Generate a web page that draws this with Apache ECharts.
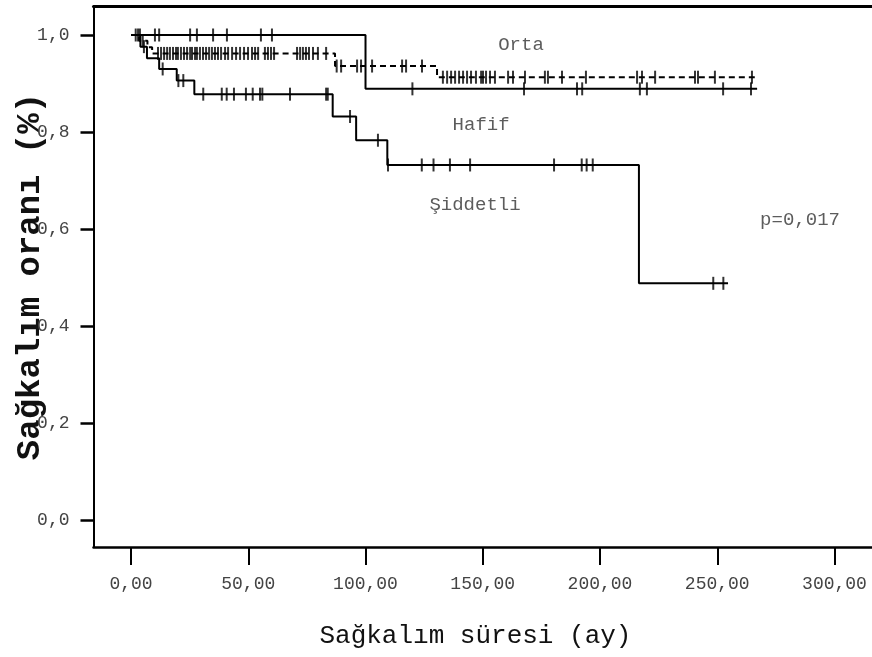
<!DOCTYPE html>
<html>
<head>
<meta charset="utf-8">
<script src="https://cdn.jsdelivr.net/npm/echarts@6/dist/echarts.min.js"></script>
<style>
  html, body { margin: 0; padding: 0; background: #fff; }
  #chart { width: 872px; height: 657px; }
</style>
</head>
<body>
<div id="chart"></div>
<script>
// Kaplan-Meier steps: [time, survival after the event]
const hafifSteps = [[0, 1], [100, 0.889], [267, 0.889]]
const ortaSteps = [[0, 1], [3.5, 0.988], [7, 0.975], [9, 0.962], [87, 0.936], [130.5, 0.913], [266, 0.913]]
const siddetliSteps = [[0, 1], [4, 0.976], [6.8, 0.952], [12, 0.93], [19.5, 0.906], [27, 0.878],
  [86, 0.832], [96, 0.783], [109.3, 0.732], [216.6, 0.488], [254.6, 0.488]]

// censored times
const hafifCensor = [3.8, 10.2, 12.0, 25.2, 28.1, 35.0, 40.9, 55.4, 60.1,
  120, 167.6, 190.2, 192.4, 217, 220, 252.5, 264.4]
const ortaCensor = [2, 5, 11.5, 12.8, 14.1, 15.4, 16.6, 17.9, 19.2, 20.0, 21.3, 22.6, 23.9, 25.2, 26.0,
  27.3, 28.1, 29.4, 30.7, 32.0, 33.3, 34.5, 35.8, 37.1, 38.4, 40.1, 41.4, 43.1, 44.8, 46.5, 48.2,
  49.9, 51.6, 52.9, 54.2, 57.1, 58.4, 59.7, 61.0, 70.8, 72.1, 73.3, 74.6, 75.9, 77.6, 79.7, 83.2,
  87.7, 89.6, 96.4, 98.1, 102.8, 115.6, 117.3, 124.1,
  133.0, 134.8, 136.5, 138.2, 139.9, 141.6, 143.3, 145.0, 147.1, 149.3, 150.1, 151.4, 153.1, 155.2,
  160.8, 162.9, 168.0, 176.5, 177.8, 183.8, 194.0, 215.8, 217.9, 223.5, 240.5, 241.8, 249.0, 264.8]
const siddetliCensor = [3, 5.5, 13.5, 20.2, 22.3, 30.8, 38.7, 40.8, 43.9, 49, 51.9, 55, 56, 67.8,
  83.2, 83.9, 93.4, 105.3, 109.6, 124, 129, 136, 144.6, 180.4, 192.2, 194.3, 196.9, 248.3, 252.6]

const xTicks = [0, 50, 100, 150, 200, 250, 300]
const yTicks = [0, 0.2, 0.4, 0.6, 0.8, 1.0]
const groupNames = ['Orta', 'Hafif', 'Şiddetli']
const pText = 'p=0,017'

const font = 'Liberation Mono'

function survAt(steps, t) {
  let s = steps[0][1]
  for (let i = 0; i < steps.length; i++) {
    if (steps[i][0] <= t) s = steps[i][1]
  }
  return s
}

function censorData(steps, times) {
  return times.map(t => [t, survAt(steps, t)])
}

function curve(name, steps, dashed) {
  return {
    name: name,
    type: 'line',
    step: 'end',
    data: steps,
    showSymbol: false,
    silent: true,
    lineStyle: { color: '#000', width: 2, type: dashed ? [6, 4] : 'solid' },
    z: 2
  }
}

function ticks(name, steps, times) {
  return {
    name: name + ' censor',
    type: 'scatter',
    data: censorData(steps, times),
    symbol: 'rect',
    symbolSize: [2, 13],
    itemStyle: { color: '#000' },
    silent: true,
    z: 3
  }
}

const chart = echarts.init(document.getElementById('chart'))

chart.setOption({
  animation: false,
  grid: { left: 93.5, top: 6, right: -9.4, bottom: 110, outerBoundsMode: 'none', containLabel: false },
  xAxis: [{
    type: 'value',
    position: 'bottom',
    min: -16,
    max: 320,
    name: 'Sağkalım süresi (ay)',
    nameLocation: 'middle',
    nameGap: 76,
    nameMoveOverlap: false,
    nameTextStyle: { fontFamily: font, fontSize: 26, color: '#111', padding: [0, 24, 0, 0] },
    axisLine: { onZero: false, lineStyle: { color: '#000', width: 2.5 } },
    axisTick: { customValues: xTicks, length: 18, lineStyle: { color: '#000', width: 2 } },
    axisLabel: {
      customValues: xTicks,
      margin: 28,
      fontFamily: font,
      fontSize: 18,
      color: '#444',
      formatter: v => v.toFixed(2).replace('.', ',')
    },
    splitLine: { show: false }
  }, {
    type: 'value',
    position: 'top',
    min: -16,
    max: 320,
    axisLine: { show: true, onZero: false, lineStyle: { color: '#000', width: 3 } },
    axisTick: { show: false },
    axisLabel: { show: false },
    splitLine: { show: false }
  }],
  yAxis: {
    type: 'value',
    min: -0.0557,
    max: 1.0598,
    name: 'Sağkalım oranı (%)',
    nameLocation: 'middle',
    nameRotate: 90,
    nameGap: 46,
    nameMoveOverlap: false,
    nameTextStyle: { fontFamily: font, fontSize: 34, fontWeight: 'bold', color: '#111' },
    axisLine: { show: true, onZero: false, lineStyle: { color: '#000', width: 2 } },
    axisTick: { show: true, customValues: yTicks, length: 13, lineStyle: { color: '#000', width: 2.5 } },
    axisLabel: {
      customValues: yTicks,
      margin: 24,
      fontFamily: font,
      fontSize: 18,
      color: '#444',
      formatter: v => v.toFixed(1).replace('.', ',')
    },
    splitLine: { show: false }
  },
  series: [
    curve('Hafif', hafifSteps, false),
    curve('Orta', ortaSteps, true),
    curve('Şiddetli', siddetliSteps, false),
    ticks('Hafif', hafifSteps, hafifCensor),
    ticks('Orta', ortaSteps, ortaCensor),
    ticks('Şiddetli', siddetliSteps, siddetliCensor),
    {
      type: 'scatter',
      symbolSize: 0,
      silent: true,
      data: [
        { name: groupNames[0], value: [166.3, 0.979] },
        { name: groupNames[1], value: [149.3, 0.814] },
        { name: groupNames[2], value: [146.7, 0.649] },
        { name: pText, value: [285.3, 0.619] }
      ],
      label: {
        show: true,
        position: 'inside',
        formatter: p => p.name,
        fontFamily: font,
        fontSize: 19,
        color: '#333'
      }
    }
  ]
})
</script>
</body>
</html>
